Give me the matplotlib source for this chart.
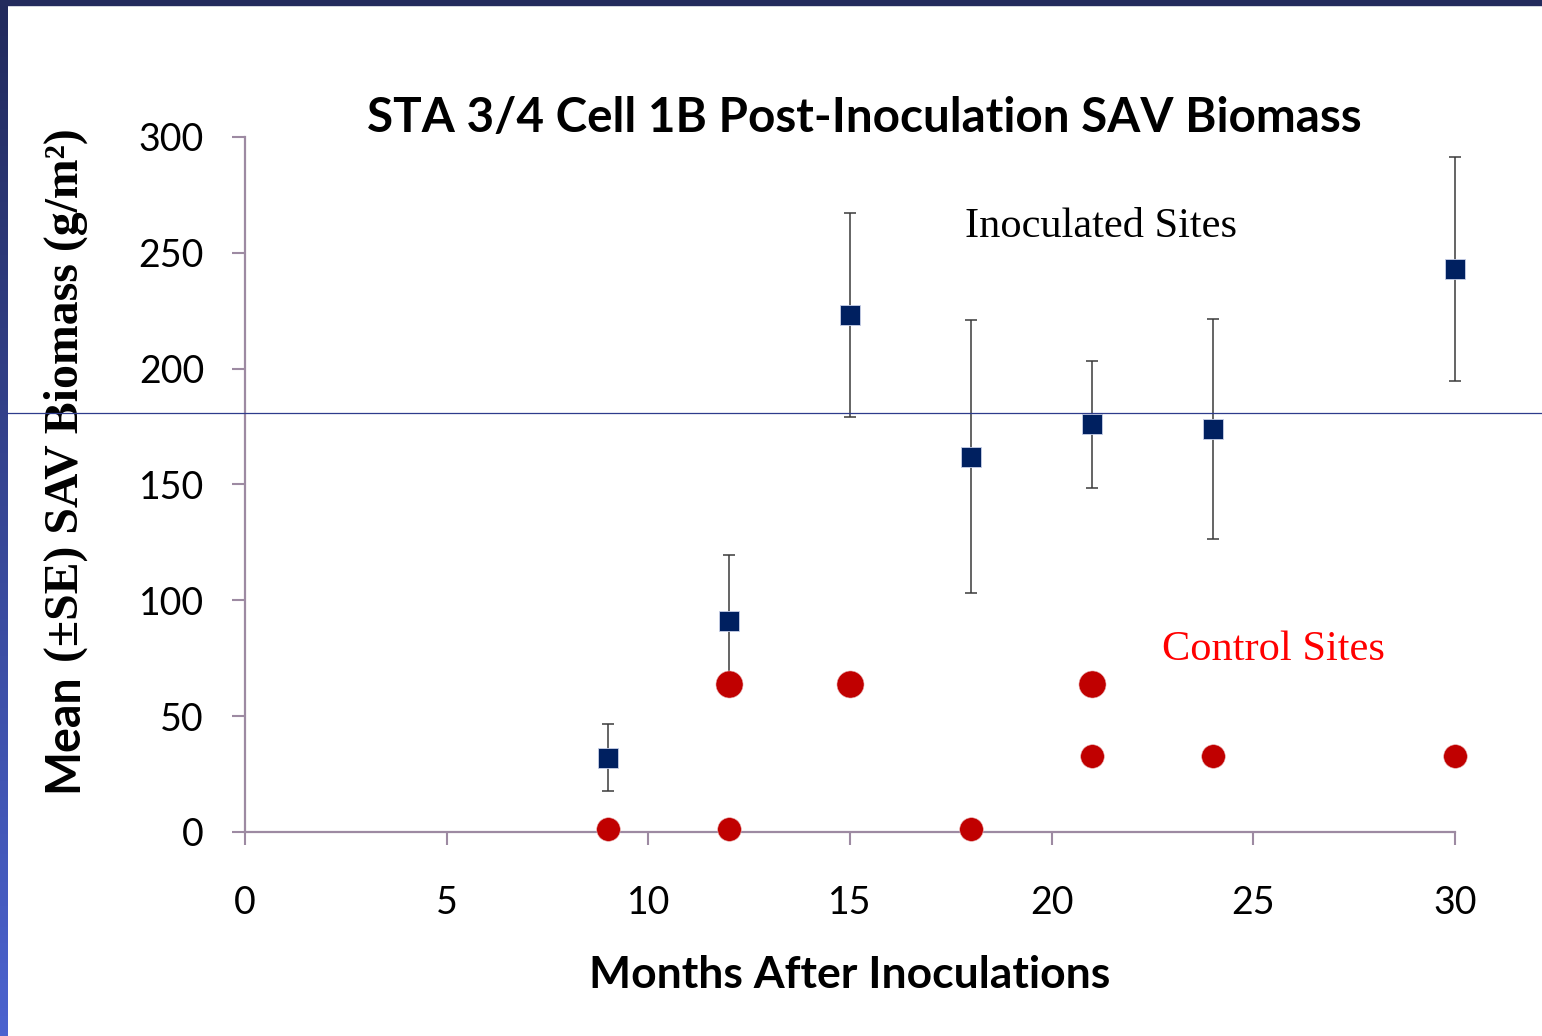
import numpy as np
import matplotlib
matplotlib.use("Agg")
import matplotlib.pyplot as plt
from matplotlib.lines import Line2D

# Inoculated sites (mean +/- SE)
months_inoc = [9, 12, 15, 18, 21, 24, 30]
inoc_mean = [32, 91, 223, 162, 176, 174, 243]
inoc_se = [14.5, 28.5, 44, 59, 27.5, 47.5, 48.5]

# Control sites (two marker sizes in the original)
months_ctrl_big = [12, 15, 21]
ctrl_big = [64, 64, 64]
months_ctrl_small = [9, 12, 18, 21, 24, 30]
ctrl_small = [1.5, 1.5, 1.5, 33, 33, 33]

x_ticks = [0, 5, 10, 15, 20, 25, 30]
y_ticks = [0, 50, 100, 150, 200, 250, 300]

axis_col = "#9d8aa2"
sans = "Lato"
serif = "Liberation Serif"

fig = plt.figure(figsize=(15.42, 10.36), dpi=100)
W, H = 1542, 1036

# slide frame: gradient strip on the left, dark band on top
strip = fig.add_axes([0, 0, 7 / W, 1])
grad = np.linspace(0, 1, 256).reshape(-1, 1)
cmap = matplotlib.colors.LinearSegmentedColormap.from_list("frame", ["#222a5c", "#4b63cf"])
strip.imshow(grad, aspect="auto", cmap=cmap, origin="upper")
strip.axis("off")
fig.patches.append(plt.Rectangle((0, 1 - 5 / H), 1, 5 / H, transform=fig.transFigure,
                                 color="#232b5d", zorder=5))

ax = fig.add_axes([245 / W, 1 - 832 / H, (1455 - 245) / W, (832 - 137) / H])
ax.set_xlim(0, 30)
ax.set_ylim(0, 300)

ax.errorbar(months_inoc, inoc_mean, yerr=inoc_se, fmt="none", ecolor="#3a3a3a",
            elinewidth=1.1, capsize=4.5, capthick=1.1, zorder=2, clip_on=False)
ax.plot(months_inoc, inoc_mean, ls="none", marker="s", ms=15, mfc="#002060",
        mec="#c8d0e8", mew=0.6, zorder=3, clip_on=False)
ax.plot(months_ctrl_big, ctrl_big, ls="none", marker="o", ms=19.5, mfc="#c00000",
        mec="#e8b0b0", mew=0.4, zorder=4, clip_on=False)
ax.plot(months_ctrl_small, ctrl_small, ls="none", marker="o", ms=17, mfc="#c00000",
        mec="#e8b0b0", mew=0.4, zorder=4, clip_on=False)

for s in ["top", "right"]:
    ax.spines[s].set_visible(False)
for s in ["left", "bottom"]:
    ax.spines[s].set_color(axis_col)
    ax.spines[s].set_linewidth(1.6)
ax.set_xticks(x_ticks)
ax.set_yticks(y_ticks)
ax.tick_params(axis="both", direction="out", length=9.5, width=1.5, color=axis_col,
               labelsize=27)
ax.tick_params(axis="x", pad=29)
ax.tick_params(axis="y", pad=20)
for lab in ax.get_xticklabels() + ax.get_yticklabels():
    lab.set_fontfamily(sans)

ax.text(17.85, 256.8, "Inoculated Sites", family=serif, fontsize=30.5, color="black",
        va="baseline", ha="left")
ax.text(22.74, 74.2, "Control Sites", family=serif, fontsize=30.5, color="#ff0000",
        va="baseline", ha="left")

fig.text(864 / W, 1 - 118 / H, "STA 3/4 Cell 1B Post-Inoculation SAV Biomass",
         family=sans, fontweight="bold", fontsize=34.3, ha="center", va="center")
fig.text(850 / W, 1 - 975 / H, "Months After Inoculations", family=sans,
         fontweight="bold", fontsize=32, ha="center", va="center")

# y label: sans "Mean" followed by serif part
fig.text(77 / W, 1 - 792 / H, "Mean", family=sans, fontweight="bold", fontsize=33.5,
         rotation=90, rotation_mode="anchor", ha="left", va="baseline")
fig.text(78 / W, 1 - 662 / H, "(\u00b1SE) SAV Biomass (g/m\u00b2)", family=serif,
         fontweight="bold", fontsize=34.4, rotation=90, rotation_mode="anchor",
         ha="left", va="baseline")

# thin horizontal rule across the slide
fig.add_artist(Line2D([7 / W, 1], [1 - 413 / H, 1 - 413 / H], transform=fig.transFigure,
                      color="#2e3c8c", lw=0.9, zorder=10))

fig.savefig("out.png", dpi=100)
